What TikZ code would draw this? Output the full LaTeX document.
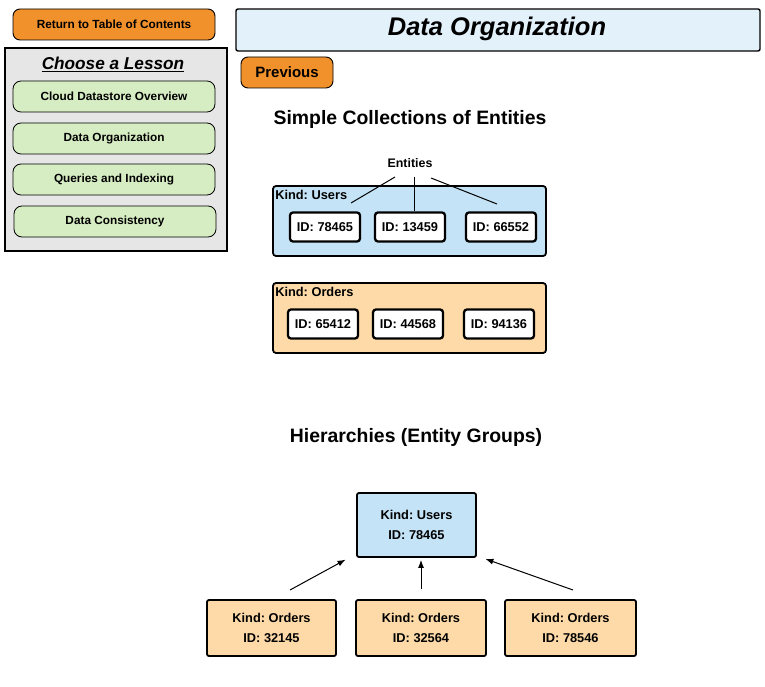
\documentclass[tikz,border=0pt]{standalone}
\usepackage{fontspec}
\setmainfont{Liberation Sans}
\usetikzlibrary{arrows.meta}
\frenchspacing
\definecolor{btnorange}{RGB}{241,145,44}
\definecolor{lessongreen}{RGB}{214,236,194}
\definecolor{panelgray}{RGB}{230,230,230}
\definecolor{titleblue}{RGB}{227,241,251}
\definecolor{usersblue}{RGB}{197,227,246}
\definecolor{ordersorange}{RGB}{253,218,168}
\tikzset{
  btn/.style={draw, line width=0.9pt, rounded corners=7pt, fill=btnorange, inner sep=0pt},
  lessonbtn/.style={draw, line width=0.8pt, rounded corners=8pt, fill=lessongreen,
    minimum width=202pt, minimum height=31pt, inner sep=0pt,
    font=\bfseries\fontsize{11.8}{14}\selectfont},
  kindbox/.style={draw, line width=1.8pt, rounded corners=3pt, minimum width=273pt, minimum height=70pt, inner sep=0pt},
  idbox/.style={draw, line width=2.3pt, rounded corners=3pt, fill=white, minimum width=70pt,
    minimum height=29pt, inner sep=0pt, font=\bfseries\fontsize{12.8}{15}\selectfont},
  kindlabel/.style={anchor=north west, inner sep=0pt, font=\bfseries\fontsize{12.8}{15}\selectfont},
  treebox/.style={draw, line width=1.8pt, rounded corners=2pt, minimum height=56pt, inner sep=0pt,
    align=center, font=\bfseries\fontsize{12.8}{20}\selectfont},
  heading/.style={font=\bfseries\fontsize{19.4}{23}\selectfont, inner sep=0pt},
  parentarrow/.style={-{Latex[length=8pt,width=6pt]}, line width=1pt}
}
\begin{document}
\begin{tikzpicture}[x=1pt,y=-1pt]
\useasboundingbox (0,0) rectangle (765,687);

% navigation
\node[btn, minimum width=202pt, minimum height=31pt, font=\bfseries\fontsize{11.8}{14}\selectfont] (ret) at (114,24.5) {Return to Table of Contents};
\node[draw, line width=1.3pt, fill=panelgray, minimum width=222pt, minimum height=203pt, inner sep=0pt] (panel) at (116,149.5) {};
\node[font=\bfseries\itshape\fontsize{17.2}{20}\selectfont, inner sep=0pt] (choose) at (113,64) {\underline{Choose a Lesson}};
\node[lessonbtn] (les1) at (114,96.5) {Cloud Datastore Overview};
\node[lessonbtn] (les2) at (114,138.5) {Data Organization};
\node[lessonbtn] (les3) at (114,179.5) {Queries and Indexing};
\node[lessonbtn] (les4) at (115,221.5) {Data Consistency};

% title
\node[draw, line width=1.4pt, rounded corners=2pt, fill=titleblue, minimum width=524pt, minimum height=42pt, inner sep=0pt] (title) at (498,30) {};
\node[font=\bfseries\itshape\fontsize{25.5}{30}\selectfont, inner sep=0pt] (titletext) at (497,29) {Data Organization};
\node[btn, minimum width=92pt, minimum height=31pt, font=\bfseries\fontsize{15}{18}\selectfont] (prev) at (287,72.5) {Previous};

% simple collections
\node[heading] (simple) at (410,119) {Simple Collections of Entities};
\node[font=\bfseries\fontsize{12.4}{15}\selectfont, inner sep=0pt] (ent) at (410,163) {Entities};

\node[kindbox, fill=usersblue] (users) at (409.5,221) {};
\node[kindlabel] (userslbl) at ([xshift=3pt,yshift=-5pt]users.north west) {Kind: Users};
\node[idbox] (us1) at (325,227) {ID: 78465};
\node[idbox] (us2) at (410,227) {ID: 13459};
\node[idbox] (us3) at (501,227) {ID: 66552};

\coordinate (e1) at (351,203);
\coordinate (e3) at (497,204);
\draw[line width=1pt] ([xshift=-15pt,yshift=-14pt]ent.center) -- (e1);
\draw[line width=1pt] ([xshift=4pt,yshift=-14pt]ent.center) -- ([xshift=4pt]us2.north);
\draw[line width=1pt] ([xshift=21pt,yshift=-15pt]ent.center) -- (e3);

\node[kindbox, fill=ordersorange] (orders) at (409.5,318) {};
\node[kindlabel] (orderslbl) at ([xshift=3pt,yshift=-5pt]orders.north west) {Kind: Orders};
\node[idbox] (or1) at (323,324) {ID: 65412};
\node[idbox] (or2) at (408,324) {ID: 44568};
\node[idbox] (or3) at (499,324) {ID: 94136};

% hierarchies
\node[heading] (hier) at (416,437) {Hierarchies (Entity Groups)};
\node[treebox, fill=usersblue, minimum width=119pt, minimum height=64pt] (root) at (416.5,525) {Kind: Users\\ID: 78465};
\node[treebox, fill=ordersorange, minimum width=129pt] (ch1) at (271.5,628) {Kind: Orders\\ID: 32145};
\node[treebox, fill=ordersorange, minimum width=130pt] (ch2) at (421,628) {Kind: Orders\\ID: 32564};
\node[treebox, fill=ordersorange, minimum width=131pt] (ch3) at (570.5,628) {Kind: Orders\\ID: 78546};

\coordinate (a1) at (290,590);
\coordinate (a3) at (573,590);
\draw[parentarrow, shorten >=12pt] (a1) -- ([yshift=4pt]root.south west);
\draw[parentarrow, shorten <=10pt, shorten >=2pt] (ch2.north) -- (ch2.north |- root.south);
\draw[parentarrow, shorten >=9pt] (a3) -- ([yshift=2pt]root.south east);
\end{tikzpicture}
\end{document}
